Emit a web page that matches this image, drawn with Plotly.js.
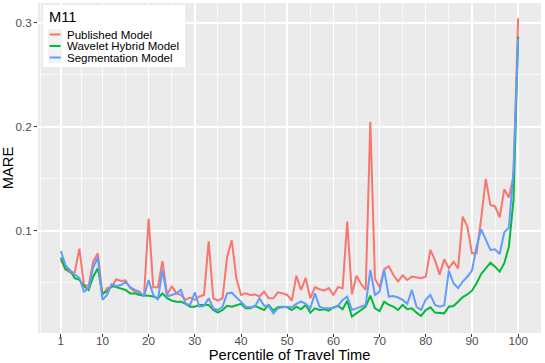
<!DOCTYPE html>
<html>
<head>
<meta charset="utf-8">
<script src="https://cdn.plot.ly/plotly-3.0.1.min.js"></script>
<style>html,body{margin:0;padding:0;background:#fff}#chart{width:545px;height:363px}</style>
</head>
<body>
<div id="chart"></div>
<script>
// Percentile of travel time 1..100
const percentiles = Array.from({length: 100}, (_, i) => i + 1);

const publishedModel = [
  0.072, 0.063, 0.060, 0.060, 0.083, 0.048, 0.047, 0.0705, 0.0785, 0.0385,
  0.045, 0.046, 0.0535, 0.052, 0.0526, 0.045, 0.0417, 0.040, 0.037, 0.112,
  0.046, 0.046, 0.071, 0.0385, 0.047, 0.040, 0.0385, 0.034, 0.036, 0.0337,
  0.037, 0.0385, 0.090, 0.0353, 0.033, 0.0353, 0.075, 0.091, 0.0545, 0.0385,
  0.040, 0.0385, 0.039, 0.037, 0.0417, 0.0353, 0.0353, 0.041, 0.040, 0.0385,
  0.033, 0.057, 0.0433, 0.0548, 0.0353, 0.046, 0.044, 0.0426, 0.045, 0.0385,
  0.046, 0.045, 0.109, 0.0392, 0.057, 0.049, 0.0433, 0.205, 0.054, 0.046,
  0.0633, 0.066, 0.0577, 0.0513, 0.0574, 0.0529, 0.0561, 0.0555, 0.0545, 0.0561,
  0.0817, 0.072, 0.058, 0.0728, 0.064, 0.0705, 0.064, 0.1138, 0.1042, 0.0785,
  0.0785, 0.112, 0.150, 0.125, 0.1236, 0.1131, 0.140, 0.1323, 0.1523, 0.3045
];

const waveletHybridModel = [
  0.0743, 0.0634, 0.062, 0.0545, 0.053, 0.047, 0.0433, 0.056, 0.0641, 0.040,
  0.0417, 0.047, 0.046, 0.045, 0.0433, 0.040, 0.040, 0.0385, 0.0385, 0.0378,
  0.037, 0.0353, 0.040, 0.0353, 0.033, 0.032, 0.032, 0.030, 0.0272, 0.0272,
  0.0289, 0.0289, 0.0289, 0.024, 0.0215, 0.024, 0.028, 0.0272, 0.0289, 0.030,
  0.0256, 0.0256, 0.028, 0.0256, 0.024, 0.0289, 0.0234, 0.0266, 0.0272, 0.0266,
  0.024, 0.0272, 0.0247, 0.0289, 0.0215, 0.0256, 0.024, 0.0247, 0.0234, 0.0266,
  0.028, 0.0247, 0.033, 0.0176, 0.0208, 0.0234, 0.0272, 0.0378, 0.0256, 0.023,
  0.032, 0.0289, 0.0272, 0.024, 0.0289, 0.0247, 0.0256, 0.0215, 0.0183, 0.024,
  0.0266, 0.0215, 0.0208, 0.0208, 0.0272, 0.0279, 0.032, 0.0365, 0.039, 0.0426,
  0.0497, 0.0587, 0.0641, 0.0695, 0.0657, 0.0609, 0.069, 0.0849, 0.130, 0.287
];

const segmentationModel = [
  0.0808, 0.067, 0.062, 0.058, 0.055, 0.0417, 0.045, 0.065, 0.0747, 0.0337,
  0.0385, 0.049, 0.047, 0.048, 0.051, 0.046, 0.0433, 0.0417, 0.0369, 0.0529,
  0.0385, 0.0337, 0.0625, 0.037, 0.0385, 0.040, 0.0433, 0.030, 0.0289, 0.041,
  0.0272, 0.028, 0.0353, 0.0256, 0.024, 0.0272, 0.040, 0.0407, 0.036, 0.0321,
  0.0272, 0.0266, 0.0272, 0.0353, 0.028, 0.028, 0.0208, 0.0256, 0.0266, 0.0272,
  0.0266, 0.030, 0.0324, 0.030, 0.0256, 0.040, 0.0272, 0.0256, 0.0256, 0.026,
  0.028, 0.0337, 0.0369, 0.024, 0.0256, 0.0272, 0.0289, 0.0625, 0.0385, 0.0417,
  0.0625, 0.0369, 0.0375, 0.036, 0.0337, 0.030, 0.0433, 0.0272, 0.024, 0.034,
  0.0385, 0.0289, 0.0272, 0.0285, 0.0618, 0.0497, 0.0449, 0.0513, 0.056, 0.0618,
  0.0849, 0.1016, 0.0913, 0.0817, 0.0824, 0.0779, 0.0987, 0.1032, 0.1587, 0.285
];

const seriesNames = ["Published Model", "Wavelet Hybrid Model", "Segmentation Model"];
const legendTitle = "M11";
const xTickVals = [1, 10, 20, 30, 40, 50, 60, 70, 80, 90, 100];
const xTickText = ["1", "10", "20", "30", "40", "50", "60", "70", "80", "90", "100"];
const xMinorVals = [-3.5, 5.5, 15, 25, 35, 45, 55, 65, 75, 85, 95];
const yTickVals = [0.1, 0.2, 0.3];
const yTickText = ["0.1", "0.2", "0.3"];
const yMinorVals = [0.05, 0.15, 0.25];

const colors = ["#F8766D", "#00BA38", "#619CFF"];
const ys = [publishedModel, waveletHybridModel, segmentationModel];

const traces = ys.map((y, i) => ({
  x: percentiles, y: y, type: "scatter", mode: "lines", name: seriesNames[i],
  line: {color: colors[i], width: 2}, showlegend: false
}));

// ---- layout geometry (pixels) ----
const W = 545, H = 363;
const M = {l: 38, r: 4, t: 3, b: 30};
const pw = W - M.l - M.r, ph = H - M.t - M.b;
const px2x = px => (px - M.l) / pw;       // pixel -> paper x
const py2y = py => (H - M.b - py) / ph;   // pixel -> paper y

const font = "Liberation Sans, Arial, Helvetica, sans-serif";

// ggplot-style legend inside the panel (top-left)
const legBox = {x0: 43, x1: 185, y0: 5, y1: 67};
const itemY = [34.5, 46, 57.5];
const shapes = [
  {type: "rect", xref: "paper", yref: "paper", layer: "above",
   x0: px2x(legBox.x0), x1: px2x(legBox.x1), y0: py2y(legBox.y1), y1: py2y(legBox.y0),
   fillcolor: "#FFFFFF", line: {width: 0}},
  {type: "rect", xref: "paper", yref: "paper", layer: "above",
   x0: px2x(48), x1: px2x(62), y0: py2y(63), y1: py2y(29),
   fillcolor: "#F2F2F2", line: {width: 0}}
];
const annotations = [
  {xref: "paper", yref: "paper", x: px2x(47), y: py2y(17), xanchor: "left", yanchor: "middle",
   text: legendTitle, showarrow: false, font: {size: 14.7, color: "#000", family: font}}
];
seriesNames.forEach((name, i) => {
  shapes.push({type: "line", xref: "paper", yref: "paper", layer: "above",
    x0: px2x(49.5), x1: px2x(60.5), y0: py2y(itemY[i]), y1: py2y(itemY[i]),
    line: {color: colors[i], width: 2}});
  annotations.push({xref: "paper", yref: "paper", x: px2x(66), y: py2y(itemY[i]),
    xanchor: "left", yanchor: "middle", text: name, showarrow: false, borderpad: 0,
    font: {size: 11.5, color: "#000", family: font}});
});

const layout = {
  width: W, height: H,
  margin: M,
  paper_bgcolor: "#FFFFFF", plot_bgcolor: "#EBEBEB",
  font: {family: font, color: "#000"},
  showlegend: false,
  shapes: shapes,
  annotations: annotations,
  xaxis: {
    range: [-3.95, 104.95], tickmode: "array", tickvals: xTickVals, ticktext: xTickText,
    showgrid: true, gridcolor: "#FFFFFF", gridwidth: 1.4, zeroline: false, showline: false,
    ticks: "outside", ticklen: 3, tickwidth: 1, tickcolor: "#333333",
    ticklabelstandoff: -6,
    tickfont: {size: 11.7, color: "#4D4D4D", family: font},
    minor: {tickmode: "array", tickvals: xMinorVals, showgrid: true, gridcolor: "#FFFFFF", gridwidth: 0.7, ticks: ""},
    title: {text: "Percentile of Travel Time", font: {size: 14.7, color: "#000", family: font}, standoff: 0}
  },
  yaxis: {
    range: [0.0019, 0.3192], tickmode: "array", tickvals: yTickVals, ticktext: yTickText,
    showgrid: true, gridcolor: "#FFFFFF", gridwidth: 1.4, zeroline: false, showline: false,
    ticks: "outside", ticklen: 3, tickwidth: 1, tickcolor: "#333333",
    tickfont: {size: 11.7, color: "#4D4D4D", family: font},
    minor: {tickmode: "array", tickvals: yMinorVals, showgrid: true, gridcolor: "#FFFFFF", gridwidth: 0.7, ticks: ""},
    title: {text: "MARE", font: {size: 14.7, color: "#000", family: font}, standoff: 2}
  }
};

Plotly.newPlot("chart", traces, layout, {staticPlot: true, displayModeBar: false});
</script>
</body>
</html>
